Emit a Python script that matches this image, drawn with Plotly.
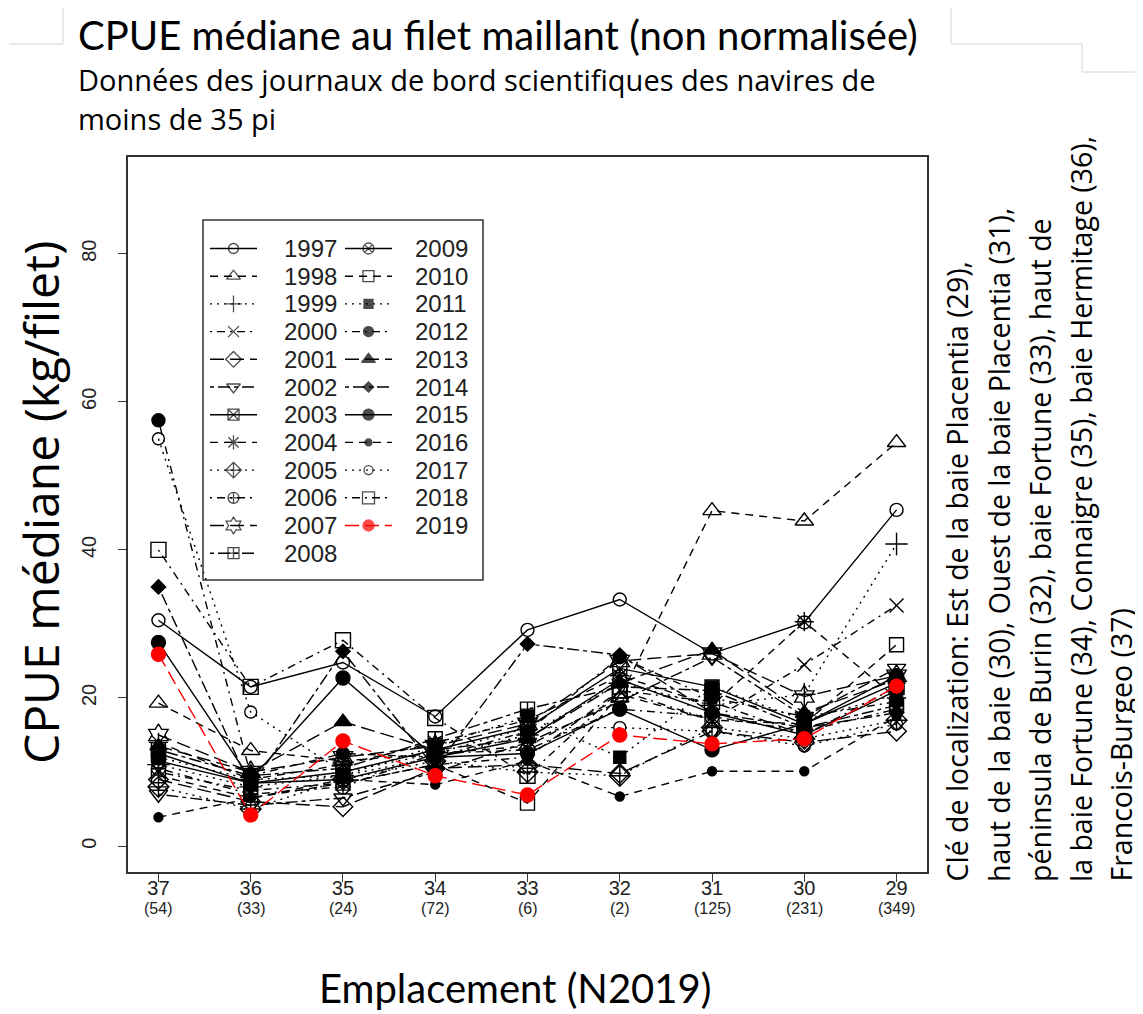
import plotly.graph_objects as go

# ---------------- data ----------------
locations = ["37", "36", "35", "34", "33", "32", "31", "30", "29"]
sample_sizes = ["(54)", "(33)", "(24)", "(72)", "(6)", "(2)", "(125)", "(231)", "(349)"]
years = [1997, 1998, 1999, 2000, 2001, 2002, 2003, 2004, 2005, 2006, 2007, 2008,
         2009, 2010, 2011, 2012, 2013, 2014, 2015, 2016, 2017, 2018, 2019]

cpue_1997 = [30.5, 21.5, 24.8, 17.5, 29.2, 33.3, 26.0, 30.2, 45.4]
cpue_1998 = [19.3, 12.9, 11.5, 12.5, 13.5, 20.0, 45.3, 43.9, 54.5]
cpue_1999 = [11.0, 8.0, 9.5, 12.0, 15.0, 22.0, 19.0, 20.5, 40.8]
cpue_2000 = [10.0, 7.5, 8.5, 11.0, 12.0, 21.0, 17.0, 24.5, 32.5]
cpue_2001 = [9.0, 6.0, 5.3, 10.5, 11.0, 9.8, 15.5, 14.0, 15.5]
cpue_2002 = [7.0, 5.5, 6.5, 10.0, 14.0, 19.5, 25.5, 17.5, 24.0]
cpue_2003 = [12.5, 8.5, 10.0, 13.0, 16.0, 24.0, 21.5, 16.5, 22.0]
cpue_2004 = [14.0, 9.0, 11.0, 14.0, 17.0, 23.0, 19.0, 30.3, 20.0]
cpue_2005 = [8.0, 5.0, 9.0, 11.5, 10.0, 9.5, 16.0, 14.5, 17.0]
cpue_2006 = [10.5, 7.0, 8.0, 12.5, 13.0, 18.5, 17.5, 15.5, 18.5]
cpue_2007 = [15.0, 10.0, 12.0, 13.5, 16.5, 25.0, 26.0, 20.2, 23.0]
cpue_2008 = [13.0, 9.5, 10.5, 14.5, 18.5, 21.5, 21.0, 16.0, 19.0]
cpue_2009 = [11.5, 8.5, 9.0, 12.0, 14.5, 22.5, 18.0, 15.0, 21.0]
cpue_2010 = [9.5, 6.5, 8.5, 11.0, 5.8, 20.5, 17.0, 16.5, 27.2]
cpue_2011 = [12.0, 9.0, 9.5, 13.5, 17.5, 12.0, 21.5, 17.0, 20.5]
cpue_2012 = [57.5, 9.5, 12.5, 12.0, 15.5, 25.5, 20.0, 17.5, 19.5]
cpue_2013 = [13.5, 10.0, 16.8, 13.0, 14.5, 22.0, 26.5, 18.0, 22.5]
cpue_2014 = [35.0, 8.0, 26.3, 10.5, 27.3, 25.8, 18.0, 16.0, 18.0]
cpue_2015 = [27.5, 9.0, 22.7, 12.0, 12.5, 18.5, 13.0, 16.5, 23.0]
cpue_2016 = [3.9, 6.5, 9.0, 8.3, 11.5, 6.7, 10.1, 10.1, 17.5]
cpue_2017 = [55.0, 18.1, 10.0, 12.5, 16.0, 16.0, 15.5, 13.5, 16.5]
cpue_2018 = [40.0, 21.5, 27.8, 17.3, 9.5, 21.0, 19.5, 15.0, 21.5]
cpue_2019 = [25.9, 4.2, 14.2, 9.5, 6.9, 15.0, 13.8, 14.5, 21.6]

series = [cpue_1997, cpue_1998, cpue_1999, cpue_2000, cpue_2001, cpue_2002, cpue_2003,
          cpue_2004, cpue_2005, cpue_2006, cpue_2007, cpue_2008, cpue_2009, cpue_2010,
          cpue_2011, cpue_2012, cpue_2013, cpue_2014, cpue_2015, cpue_2016, cpue_2017,
          cpue_2018, cpue_2019]

y_ticks = [0, 20, 40, 60, 80]

# ---------------- styles (R pch / lty look-alikes) ----------------
symbols = ["circle-open", "triangle-up-open", "cross-thin-open", "x-thin-open", "diamond-open",
           "triangle-down-open", "square-x-open", "asterisk-open", "diamond-cross-open",
           "circle-cross-open", "hexagram-open", "square-cross-open", "circle-x-open",
           "square-open", "square", "circle", "triangle-up", "diamond", "circle", "circle",
           "circle-open", "square-open", "circle"]
sizes = [13, 16, 16, 14, 15, 16, 14, 16, 16, 14, 17, 14, 14, 14, 12, 13, 15, 11, 14, 9,
         12, 15, 14]
lty = ["solid", "8px,6px", "2px,5px", "2px,5px,8px,5px", "14px,6px", "4px,4px,12px,4px"]
dashes = [lty[i % 6] for i in range(len(years))]
colors = ["black"] * (len(years) - 1) + ["red"]

# screen geometry (the page body has an 8px margin)
OFF = 8
SW, SH = 1143, 1014
L, R, T, B = 128, 927, 157, 872


def px(x):
    return (x - L) / (R - L)


def py(y):
    return (B - y) / (B - T)


fig = go.Figure()

for i, yr in enumerate(years):
    fig.add_trace(go.Scatter(
        x=locations, y=series[i], mode="lines+markers", name=str(yr),
        line=dict(color=colors[i], width=1.4, dash=dashes[i]),
        marker=dict(symbol=symbols[i], size=sizes[i], color=colors[i],
                    line=dict(color=colors[i], width=1.4)),
        showlegend=False, hoverinfo="skip"))

# ---------------- hand-drawn R style legend (overlay pixel axes) ----------------
row0, row_step = 248.5, 27.7
col_x = [(210, 257, 282), (345, 392, 413)]
annotations = []
for i, yr in enumerate(years):
    col = 0 if i < 12 else 1
    row = i if i < 12 else i - 12
    xa, xb, xt = col_x[col]
    yy = row0 + row * row_step
    lsize = max(6, int(sizes[i] * 0.8))
    fig.add_trace(go.Scatter(
        x=[xa, (xa + xb) / 2, xb], y=[yy, yy, yy], xaxis="x2", yaxis="y2",
        mode="lines+markers",
        line=dict(color=colors[i], width=1.4, dash=dashes[i]),
        marker=dict(symbol=symbols[i], size=[0, lsize, 0], color=colors[i],
                    line=dict(color=colors[i], width=1.3)),
        showlegend=False, hoverinfo="skip"))
    annotations.append(dict(x=px(xt), y=py(yy), xref="paper", yref="paper",
                            text=str(yr), showarrow=False, xanchor="left", yanchor="middle",
                            font=dict(family="Liberation Sans, Arial", size=24, color="#222")))

shapes = [dict(type="rect", xref="paper", yref="paper", x0=px(203), x1=px(483),
               y0=py(580), y1=py(220), line=dict(color="#333", width=1.5))]

# faint slide artefact lines
art = "#d4d4d4"
for (x0, y0, x1, y1) in [(63, 8, 63, 44), (9, 44, 63, 44),
                         (951, 8, 951, 44), (951, 44, 1082, 44), (1082, 44, 1082, 72),
                         (1082, 72, 1143, 72)]:
    shapes.append(dict(type="line", xref="paper", yref="paper", x0=px(x0), x1=px(x1),
                       y0=py(y0), y1=py(y1), line=dict(color=art, width=1)))

# ---------------- text ----------------
lato = "Lato, Open Sans, sans-serif"
osans = "Open Sans, Noto Sans, sans-serif"
annotations += [
    dict(x=px(76), y=py(35), xref="paper", yref="paper", xanchor="left", yanchor="middle",
         text="CPUE médiane au filet maillant (non normalisée)", showarrow=False,
         font=dict(family=lato, size=40, color="black")),
    dict(x=px(76), y=py(80), xref="paper", yref="paper", xanchor="left", yanchor="middle",
         text="Données des journaux de bord scientifiques des navires de", showarrow=False,
         font=dict(family=osans, size=29, color="black")),
    dict(x=px(76), y=py(118), xref="paper", yref="paper", xanchor="left", yanchor="middle",
         text="moins de 35 pi", showarrow=False,
         font=dict(family=osans, size=29, color="black")),
    dict(x=px(41), y=py(503), xref="paper", yref="paper", xanchor="center", yanchor="middle",
         text="CPUE médiane (kg/filet)", textangle=-90, showarrow=False,
         font=dict(family=osans, size=48, color="black")),
    dict(x=px(515), y=py(988), xref="paper", yref="paper", xanchor="center", yanchor="middle",
         text="Emplacement (N2019)", showarrow=False,
         font=dict(family=lato, size=40, color="black")),
]

key_lines = ["Clé de localization: Est de la baie Placentia (29),",
             "haut de la baie (30), Ouest de la baie Placentia (31),",
             "péninsula de Burin (32), baie Fortune (33), haut de",
             "la baie Fortune (34), Connaigre (35), baie Hermitage (36),",
             "Francois-Burgeo (37)"]
key_x = [957, 999, 1040, 1081, 1121]
for kx, kt in zip(key_x, key_lines):
    annotations.append(dict(x=px(kx), y=py(884), xref="paper", yref="paper",
                            xanchor="center", yanchor="bottom", text=kt, textangle=-90,
                            showarrow=False,
                            font=dict(family=osans, size=28.5, color="black")))

# sample sizes under the location tick labels (x given as category index)
for k, n in enumerate(sample_sizes):
    annotations.append(dict(x=k, y=py(908), xref="x", yref="paper", text=n,
                            showarrow=False, xanchor="center", yanchor="middle",
                            font=dict(family="Liberation Sans, Arial", size=16, color="#222")))

axis_font = dict(family="Liberation Sans, Arial", size=20, color="#222")
fig.update_layout(
    width=SW - OFF, height=SH - OFF,
    margin=dict(l=L - OFF, r=SW - R, t=T - OFF, b=SH - B, pad=0),
    paper_bgcolor="white", plot_bgcolor="white", showlegend=False,
    xaxis=dict(type="category", range=[-0.33, 8.33], tickvals=locations, ticktext=locations,
               showline=True, mirror=True, linecolor="#333", linewidth=1.5,
               ticks="outside", ticklen=8, tickcolor="#333", tickwidth=1.3,
               showgrid=False, zeroline=False, tickfont=axis_font, ticklabelstandoff=-11),
    yaxis=dict(range=[-3.5, 93.06], tickvals=y_ticks, tickangle=-90,
               showline=True, mirror=True, linecolor="#333", linewidth=1.5,
               ticks="outside", ticklen=8, tickcolor="#333", tickwidth=1.3,
               showgrid=False, zeroline=False, tickfont=axis_font, ticklabelstandoff=14),
    xaxis2=dict(overlaying="x", range=[L, R], visible=False, anchor="y2"),
    yaxis2=dict(overlaying="y", range=[B, T], visible=False, anchor="x2"),
    annotations=annotations, shapes=shapes,
)

fig.write_html("out.html")
